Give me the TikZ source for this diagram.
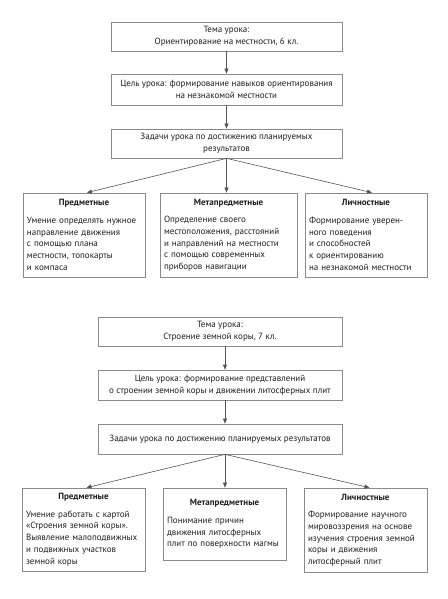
\documentclass[tikz,border=0pt]{standalone}
\usepackage{fontspec}
\setmainfont{PT Sans}
\usetikzlibrary{arrows.meta}
\definecolor{boxline}{HTML}{8A8A8A}
\definecolor{arrowcol}{HTML}{555555}
\definecolor{txt}{HTML}{1E1E1E}
\begin{document}
\begin{tikzpicture}[x=1pt,y=-1pt,
  font=\fontsize{9}{11.7}\selectfont, text=txt,
  box/.style={draw=boxline, line width=0.7pt, inner sep=2pt, align=center, anchor=center},
  sbox/.style={draw=boxline, line width=0.7pt, inner sep=4pt, align=left, anchor=center, text width=#1},
  conn/.style={draw=arrowcol, line width=0.6pt, -{Triangle[length=5pt,width=4pt]}}]
\useasboundingbox (0,0) rectangle (447,599);
% ---------- top diagram ----------
\node[box, minimum width=231pt, minimum height=29pt] (t1) at (226.5,36.5)
  {Тема урока:\\Ориентирование на местности, 6 кл.};
\node[box, minimum width=231pt, minimum height=31pt] (t2) at (226.5,89.5)
  {Цель урока: формирование навыков ориентирования\\на незнакомой местности};
\node[box, minimum width=231pt, minimum height=29pt] (t3) at (226.5,143.5)
  {Задачи урока по достижению планируемых\\результатов};
\node[sbox=114pt, minimum height=84pt] (tA) at (84,235)
  {\makebox[\linewidth]{\textbf{Предметные}}\\[6pt]
   Умение определять нужное\\направление движения\\с помощью плана\\местности, топокарты\\и компаса};
\node[sbox=129pt, minimum height=84pt] (tB) at (228.5,235)
  {\makebox[\linewidth]{\textbf{Метапредметные}}\\[6pt]
   Определение своего\\местоположения, расстояний\\и направлений на местности\\с помощью современных\\приборов навигации};
\node[sbox=114pt, minimum height=84pt] (tC) at (366,235)
  {\makebox[\linewidth]{\textbf{Личностные}}\\[6pt]
   Формирование уверен-\\ного поведения\\и способностей\\к ориентированию\\на незнакомой местности};
\draw[conn] (t1) -- (t2);
\draw[conn] (t2) -- (t3);
\draw[conn] (t3.south) -- ([xshift=3pt]tA.north);
\draw[conn] (t3.south) -- (t3.south |- tB.north);
\draw[conn] (t3.south) -- ([xshift=6pt]tC.north);
% ---------- bottom diagram ----------
\node[box, minimum width=244pt, minimum height=29pt] (b1) at (220,331.5)
  {Тема урока:\\Строение земной коры, 7 кл.};
\node[box, minimum width=244pt, minimum height=30pt] (b2) at (220,385)
  {Цель урока: формирование представлений\\о строении земной коры и движении литосферных плит};
\node[box, minimum width=244pt, minimum height=30pt] (b3) at (220,439)
  {Задачи урока по достижению планируемых результатов};
\node[sbox=115pt, minimum height=83pt] (bA) at (83.5,529.5)
  {\makebox[\linewidth]{\textbf{Предметные}}\\[6pt]
   Умение работать с картой\\«Строения земной коры».\\Выявление малоподвижных\\и подвижных участков\\земной коры};
\node[sbox=115pt, minimum height=72pt] (bB) at (224.5,524)
  {\makebox[\linewidth]{\textbf{Метапредметные}}\\[6pt]
   Понимание причин\\движения литосферных\\плит по поверхности магмы};
\node[sbox=115pt, minimum height=84pt] (bC) at (365.5,530)
  {\makebox[\linewidth]{\textbf{Личностные}}\\[6pt]
   Формирование научного\\мировоззрения на основе\\изучения строения земной\\коры и движения\\литосферный плит};
\draw[conn] ([xshift=5pt]b1.south) -- ([xshift=5pt]b2.north);
\draw[conn] ([xshift=5pt]b2.south) -- ([xshift=5pt]b3.north);
\coordinate (bs) at ([xshift=5pt]b3.south);
\draw[conn] (bs) -- ([xshift=3pt]bA.north);
\draw[conn] (bs) -- (bs |- bB.north);
\draw[conn] (bs) -- ([xshift=4pt]bC.north);
\end{tikzpicture}
\end{document}
